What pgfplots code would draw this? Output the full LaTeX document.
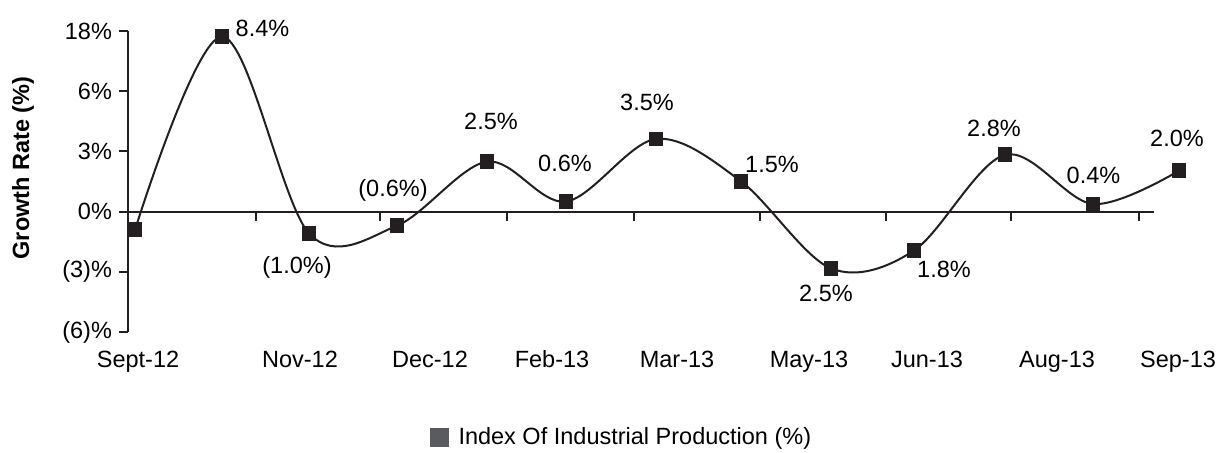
\documentclass[border=0pt]{standalone}
\usepackage{fontspec}
\setmainfont{Liberation Sans}
\usepackage{pgfplots}
\pgfplotsset{compat=1.18}
\definecolor{ink}{HTML}{231F20}
\definecolor{leggray}{HTML}{5A5B5E}
\newcommand{\cfont}{\fontsize{11.75}{14}\selectfont}
\begin{document}
\begin{tikzpicture}
\useasboundingbox (0,0) rectangle (616pt,226pt);
\begin{axis}[
  at={(64pt,60pt)}, anchor=south west,
  scale only axis, width=538.5pt, height=150.5pt,
  xmin=128, xmax=1205, ymin=-6, ymax=9,
  clip=false,
  axis x line*=bottom, axis y line*=left,
  x axis line style={draw=none},
  y axis line style={draw=ink, line width=1pt},
  tick align=outside,
  major tick length=4.5pt,
  ytick={-6,-3,0,3,6,9},
  yticklabels={(6)\%,(3)\%,0\%,3\%,6\%,18\%},
  ytick style={draw=ink, line width=1pt},
  xtick={138,300,430,552,677,809,927,1057,1178},
  xticklabels={Sept-12,Nov-12,Dec-12,Feb-13,Mar-13,May-13,Jun-13,Aug-13,Sep-13},
  xtick style={draw=none},
  xticklabel style={font=\cfont, anchor=base, yshift=-13.25pt},
  yticklabel style={font=\cfont},
  /pgf/number format/assume math mode=true,
  ylabel={\textbf{Growth Rate (\%)}},
  ylabel style={font=\cfont, at={(axis description cs:-0.0975,0.545)}, anchor=center},
  legend style={draw=none, font=\cfont, at={(axis description cs:0.2805,-0.349)}, anchor=west,
    legend cell align=left, inner sep=0pt},
]
\draw[ink, line width=1pt] (axis cs:128,0) -- (axis cs:1154,0);
\draw[ink, line width=1pt] (axis cs:256,0) -- ([yshift=-4.5pt]axis cs:256,0);
\draw[ink, line width=1pt] (axis cs:380,0) -- ([yshift=-4.5pt]axis cs:380,0);
\draw[ink, line width=1pt] (axis cs:507,0) -- ([yshift=-4.5pt]axis cs:507,0);
\draw[ink, line width=1pt] (axis cs:634,0) -- ([yshift=-4.5pt]axis cs:634,0);
\draw[ink, line width=1pt] (axis cs:760,0) -- ([yshift=-4.5pt]axis cs:760,0);
\draw[ink, line width=1pt] (axis cs:886,0) -- ([yshift=-4.5pt]axis cs:886,0);
\draw[ink, line width=1pt] (axis cs:1011,0) -- ([yshift=-4.5pt]axis cs:1011,0);
\draw[ink, line width=1pt] (axis cs:1139,0) -- ([yshift=-4.5pt]axis cs:1139,0);
\addplot[ink, line width=1pt, smooth, tension=0.55, mark=square*, mark size=3.2pt,
  mark options={fill=ink, draw=ink}, forget plot] coordinates {
  (135,-0.91) (222,8.72) (309,-1.08) (397,-0.70) (487,2.49) (566,0.50)
  (656,3.62) (741,1.51) (831,-2.83) (914,-1.94) (1005,2.83) (1093,0.38) (1179,2.04)
};
\addlegendimage{only marks, mark=square*, mark size=4.5pt, color=leggray}
\addlegendentry{\hspace{3pt}Index Of Industrial Production (\%)}
\node[font=\cfont] at (axis cs:262.5,9.14) {8.4\%};
\node[font=\cfont] at (axis cs:297,-2.79) {(1.0\%)};
\node[font=\cfont] at (axis cs:393,1.05) {(0.6\%)};
\node[font=\cfont] at (axis cs:491,4.50) {2.5\%};
\node[font=\cfont] at (axis cs:565,2.41) {0.6\%};
\node[font=\cfont] at (axis cs:647,5.42) {3.5\%};
\node[font=\cfont] at (axis cs:772,2.34) {1.5\%};
\node[font=\cfont] at (axis cs:826,-4.09) {2.5\%};
\node[font=\cfont] at (axis cs:944,-2.89) {1.8\%};
\node[font=\cfont] at (axis cs:994,4.14) {2.8\%};
\node[font=\cfont] at (axis cs:1093.5,1.79) {0.4\%};
\node[font=\cfont] at (axis cs:1177,3.64) {2.0\%};
\end{axis}
\end{tikzpicture}
\end{document}
